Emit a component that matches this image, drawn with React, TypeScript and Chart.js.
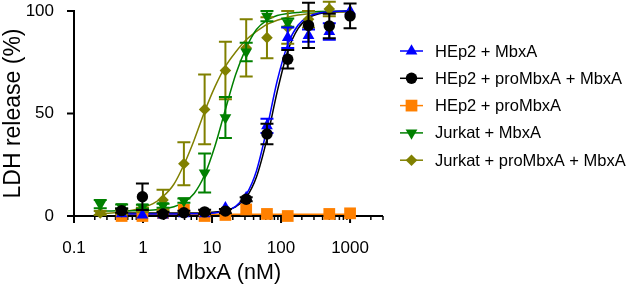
import React, { useEffect, useRef } from 'react';
import { Chart, registerables } from 'chart.js';
import { drawPoint } from 'chart.js/helpers';

Chart.register(...registerables);

// ---------- data ----------
const concentrations = [0.24, 0.49, 0.98, 1.95, 3.91, 7.81, 15.63, 31.25, 62.5, 125, 250, 500, 1000];

const hep2MbxA = [null, 1, 0.5, 0.5, 1, 1, 4, 9, 44, 87, 88, 90, 100];
const hep2MbxAErr = [0, 0, 0, 0, 0, 0, 0, 0, 3.5, 5, 3, 4, 0];

const hep2ProMbxAMbxA = [null, 2.6, 9.4, 1, 1.6, 2, 2.4, 8.2, 40, 76.5, 93, 92.7, 97.6];
const hep2ProMbxAMbxAErr = [0, 1, 6.5, 1, 1, 1, 1, 1, 5, 4.5, 11, 6, 6];

const hep2ProMbxA = [null, 0, 0, 1.5, 3, 0, 0.5, 3.2, 1, 0, null, 1, 1.3];
const hep2ProMbxAErr = [0, 0, 0, 0, 0, 0, 0, 0, 0, 0, 0, 0, 0];

const jurkatMbxA = [5.8, 4.6, 4.5, 5, 7.5, 21, 48, 80, 97.5, 94.3, null, null, null];
const jurkatMbxAErr = [2, 1, 1, 1, 1, 9.5, 10, 4.5, 2.5, 2, 0, 0, 0];

const jurkatProMbxAMbxA = [1.5, 2, 3, 7.8, 25.5, 52, 71, 82, 87, 92, 96, 101, null];
const jurkatProMbxAMbxAErr = [1, 1, 1, 5, 10.5, 17, 14, 14, 10, 8, 4, 3.5, 0];

// fitted curves
const curveConc = [0.24, 0.35, 0.49, 0.7, 0.98, 1.4, 1.95, 2.8, 3.91, 5.5, 7.81, 11, 15.63, 22, 31.25, 44, 62.5, 88, 125, 177, 250, 354, 500, 707, 1000];
const hep2MbxAFit = [null, null, 1, 1, 1, 1, 1, 1, 1, 1.1, 1.2, 1.5, 2.5, 4.7, 10.4, 22, 42.7, 66, 83.7, 93.2, 97.3, 99, 99.6, 99.9, 100];
const hep2ProMbxAMbxAFit = [null, null, 1.5, 1.5, 1.5, 1.5, 1.5, 1.5, 1.5, 1.5, 1.7, 1.9, 2.7, 4.5, 9, 19, 37.6, 60.7, 80.4, 91.5, 96.6, 98.7, 99.5, 99.8, 100];
const jurkatMbxAFit = [2.5, 2.5, 2.6, 2.6, 2.7, 2.9, 3.4, 4.5, 6.7, 11, 20, 34, 52, 69, 82, 91, 95.5, 97.8, 98.8, 99.3, 99.6, 99.8, 99.9, 99.9, 100];
const jurkatProMbxAMbxAFit = [1.2, 1.5, 2.0, 2.8, 4.0, 6.0, 9.5, 15.5, 25, 37, 51, 63, 73, 80, 86, 90, 93.5, 95.5, 97, 98, 98.6, 99, 99.3, 99.5, 99.6];
const hep2ProMbxAFitConc = [0.49, 1000];
const hep2ProMbxAFit = [0.8, 0.8];

const seriesLabels = [
  'HEp2 + MbxA',
  'HEp2 + proMbxA + MbxA',
  'HEp2 + proMbxA',
  'Jurkat + MbxA',
  'Jurkat + proMbxA + MbxA',
];

const xTickValues = [0.1, 1, 10, 100, 1000];
const xTickLabels = ['0.1', '1', '10', '100', '1000'];
const yTickValues = [0, 50, 100];
const yTickLabels = ['0', '50', '100'];

// ---------- styles ----------
const FONT = "'Liberation Sans', Arial, Helvetica, sans-serif";
const X_MIN = 0.1;
const X_MAX = 3000;

type SeriesStyle = { color: string; pointStyle: string; rotation: number; radius: number };
const styles: SeriesStyle[] = [
  { color: '#0000FF', pointStyle: 'triangle', rotation: 0, radius: 6.8 },
  { color: '#000000', pointStyle: 'circle', rotation: 0, radius: 5.7 },
  { color: '#FF8000', pointStyle: 'rect', rotation: 0, radius: 8.3 },
  { color: '#008000', pointStyle: 'triangle', rotation: 180, radius: 6.8 },
  { color: '#808000', pointStyle: 'rectRot', rotation: 0, radius: 5.8 },
];

const seriesValues = [hep2MbxA, hep2ProMbxAMbxA, hep2ProMbxA, jurkatMbxA, jurkatProMbxAMbxA];
const seriesErrors = [hep2MbxAErr, hep2ProMbxAMbxAErr, hep2ProMbxAErr, jurkatMbxAErr, jurkatProMbxAMbxAErr];
const fitConcs = [curveConc, curveConc, hep2ProMbxAFitConc, curveConc, curveConc];
const fitValues = [hep2MbxAFit, hep2ProMbxAMbxAFit, hep2ProMbxAFit, jurkatMbxAFit, jurkatProMbxAMbxAFit];
// drawing weight: lower = on top
const markerOrder = [2, 1, 5, 3, 4];

function toPoints(xs: number[], ys: (number | null)[]) {
  const out: { x: number; y: number }[] = [];
  xs.forEach((x, i) => {
    const y = ys[i];
    if (y !== null && y !== undefined) out.push({ x, y });
  });
  return out;
}

const errorBarPlugin = {
  id: 'errorBars',
  beforeDatasetDraw(chart: any, args: any) {
    const ds = chart.data.datasets[args.index];
    if (!ds.errorBars) return;
    const { ctx } = chart;
    const xs = chart.scales.x;
    const ys = chart.scales.y;
    ctx.save();
    ctx.strokeStyle = ds.borderColor;
    ctx.lineWidth = 2;
    const cap = 6.5;
    ds.errorBars.forEach((p: any) => {
      if (!p.e) return;
      const px = xs.getPixelForValue(p.x);
      const y1 = ys.getPixelForValue(p.y + p.e);
      const y2 = ys.getPixelForValue(p.y - p.e);
      ctx.beginPath();
      ctx.moveTo(px, y1);
      ctx.lineTo(px, y2);
      ctx.moveTo(px - cap, y1);
      ctx.lineTo(px + cap, y1);
      ctx.moveTo(px - cap, y2);
      ctx.lineTo(px + cap, y2);
      ctx.stroke();
    });
    ctx.restore();
  },
};

const axesPlugin = {
  id: 'prismAxes',
  beforeDatasetsDraw(chart: any) {
    const { ctx } = chart;
    const xs = chart.scales.x;
    const ys = chart.scales.y;
    const left = xs.getPixelForValue(X_MIN);
    const right = xs.getPixelForValue(X_MAX);
    const top = ys.getPixelForValue(100);
    const bottom = ys.getPixelForValue(0);
    ctx.save();
    ctx.strokeStyle = '#000';
    ctx.lineWidth = 2;
    ctx.lineCap = 'butt';
    ctx.beginPath();
    ctx.moveTo(left, top - 1);
    ctx.lineTo(left, bottom + 1);
    ctx.moveTo(left - 1, bottom);
    ctx.lineTo(right, bottom);
    yTickValues.forEach((v) => {
      const py = ys.getPixelForValue(v);
      ctx.moveTo(left - 7, py);
      ctx.lineTo(left, py);
    });
    xTickValues.forEach((v) => {
      const px = xs.getPixelForValue(v);
      ctx.moveTo(px, bottom);
      ctx.lineTo(px, bottom + 7);
    });
    ctx.stroke();
    ctx.lineWidth = 1.5;
    ctx.beginPath();
    xTickValues.forEach((d) => {
      for (let k = 2; k <= 9; k++) {
        const v = k * d;
        if (v > X_MAX * 1.0001) break;
        const px = xs.getPixelForValue(v);
        ctx.moveTo(px, bottom);
        ctx.lineTo(px, bottom + 4);
      }
    });
    ctx.stroke();
    ctx.restore();
  },
};

const legendPlugin = {
  id: 'prismLegend',
  afterDraw(chart: any) {
    const { ctx } = chart;
    const top = 51;
    const step = 27.3;
    ctx.save();
    seriesLabels.forEach((label, i) => {
      const st = styles[i];
      const y = top + i * step;
      ctx.strokeStyle = st.color;
      ctx.lineWidth = 1.5;
      ctx.beginPath();
      ctx.moveTo(400, y);
      ctx.lineTo(423, y);
      ctx.stroke();
      ctx.fillStyle = st.color;
      drawPoint(ctx, { pointStyle: st.pointStyle as any, rotation: st.rotation, radius: st.radius, borderWidth: 0 } as any, 411.5, y);
      ctx.fillStyle = '#000';
      ctx.font = `16.5px ${FONT}`;
      ctx.textAlign = 'left';
      ctx.textBaseline = 'middle';
      ctx.fillText(label, 435, y + 1);
    });
    ctx.restore();
  },
};

export default function App() {
  const canvasRef = useRef<HTMLCanvasElement | null>(null);

  useEffect(() => {
    const canvas = canvasRef.current;
    if (!canvas) return;

    const datasets: any[] = [];
    seriesLabels.forEach((label, i) => {
      const st = styles[i];
      datasets.push({
        type: 'scatter',
        label: label + ' fit',
        data: toPoints(fitConcs[i], fitValues[i]),
        showLine: true,
        borderColor: st.color,
        backgroundColor: st.color,
        borderWidth: 1.5,
        pointRadius: 0,
        cubicInterpolationMode: 'monotone',
        fill: false,
        clip: false,
        order: 10 + i,
      });
    });
    seriesLabels.forEach((label, i) => {
      const st = styles[i];
      const pts = toPoints(concentrations, seriesValues[i]);
      const errs: any[] = [];
      concentrations.forEach((c, j) => {
        const v = seriesValues[i][j];
        if (v !== null && v !== undefined) errs.push({ x: c, y: v, e: seriesErrors[i][j] });
      });
      datasets.push({
        type: 'scatter',
        label,
        data: pts,
        showLine: false,
        pointStyle: st.pointStyle,
        rotation: st.rotation,
        pointRotation: st.rotation,
        pointRadius: st.radius,
        pointBorderWidth: 0,
        borderWidth: 0,
        borderColor: st.color,
        backgroundColor: st.color,
        clip: false,
        order: markerOrder[i],
        errorBars: errs,
      });
    });

    const chart = new Chart(canvas, {
      type: 'scatter',
      data: { datasets },
      options: {
        animation: false,
        responsive: false,
        devicePixelRatio: 1,
        events: [],
        layout: { padding: { left: 0, right: 245, top: 11, bottom: 0 } },
        plugins: { legend: { display: false }, tooltip: { enabled: false } },
        scales: {
          x: {
            type: 'logarithmic',
            position: 'bottom',
            min: X_MIN,
            max: X_MAX,
            grid: { display: false },
            border: { display: false },
            afterFit: (s: any) => { s.height = 70; s.paddingLeft = 0; s.paddingRight = 0; },
            afterBuildTicks: (s: any) => { s.ticks = xTickValues.map((v) => ({ value: v })); },
            ticks: {
              autoSkip: false,
              maxRotation: 0,
              minRotation: 0,
              padding: 14,
              color: '#000',
              font: { size: 17, family: FONT },
              callback: (_v: any, i: number) => xTickLabels[i],
            },
            title: {
              display: true,
              text: 'MbxA (nM)',
              color: '#000',
              font: { size: 21.5, family: FONT },
              padding: { top: 0, bottom: 0 },
            },
          },
          y: {
            type: 'linear',
            position: 'left',
            min: 0,
            max: 100,
            grid: { display: false },
            border: { display: false },
            afterFit: (s: any) => { s.width = 74; s.paddingTop = 0; s.paddingBottom = 0; },
            afterBuildTicks: (s: any) => { s.ticks = yTickValues.map((v) => ({ value: v })); },
            ticks: {
              padding: 12,
              color: '#000',
              font: { size: 17, family: FONT },
              callback: (_v: any, i: number) => yTickLabels[i],
            },
            title: {
              display: true,
              text: 'LDH release (%)',
              color: '#000',
              font: { size: 23, family: FONT },
              padding: { top: 0, bottom: 0 },
            },
          },
        },
      } as any,
      plugins: [axesPlugin, errorBarPlugin, legendPlugin],
    });

    return () => chart.destroy();
  }, []);

  return (
    <div style={{ position: 'fixed', left: 0, top: 0, width: 628, height: 286, background: '#fff' }}>
      <canvas ref={canvasRef} width={628} height={286} style={{ width: 628, height: 286, display: 'block' }} />
    </div>
  );
}
